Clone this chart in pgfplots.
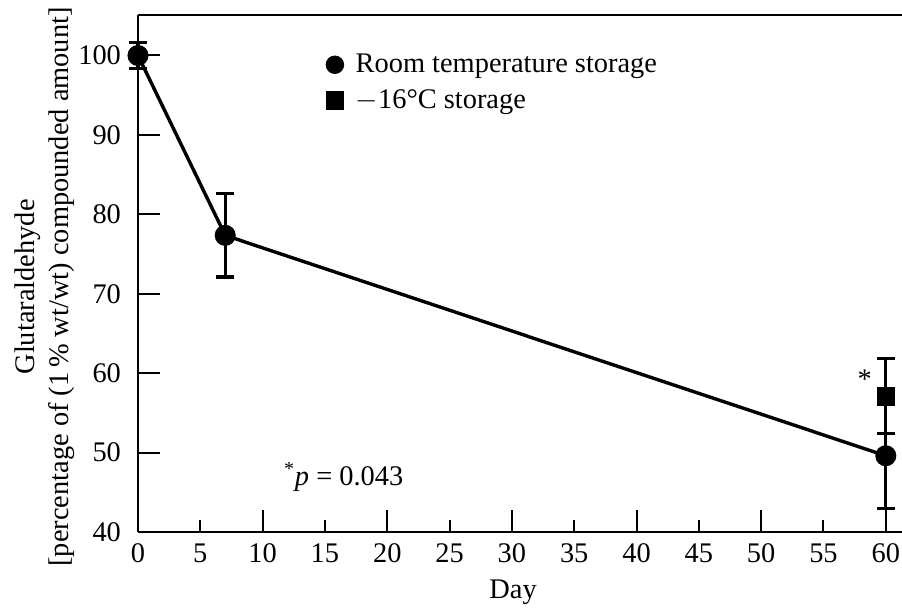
\documentclass[border=0pt]{standalone}
\usepackage{fontspec}
\setmainfont{Liberation Serif}
\usepackage{pgfplots}
\pgfplotsset{compat=1.18}
\usetikzlibrary{calc}
\begin{document}
\begin{tikzpicture}[font=\fontsize{14.2}{17}\selectfont]
\begin{axis}[
  scale only axis,
  width=382pt, height=258.5pt,
  xmin=0, xmax=61.3, ymin=40, ymax=105.1,
  axis y line*=left,
  xtick pos=bottom, ytick pos=left,
  xtick={0,10,...,60},
  extra x ticks={5,15,25,35,45,55}, extra x tick style={major tick length=6pt},
  ytick={40,50,...,100},
  tick align=inside,
  major tick length=11pt,
  xticklabels={0,10,20,30,40,50,60},
  extra x tick labels={5,15,25,35,45,55},
  /pgf/number format/assume math mode=true,
  axis line style={line width=1pt, black},
  every tick/.style={line width=1pt, black},
  tick label style={font=\fontsize{14.2}{17}\selectfont},
  xticklabel style={yshift=-2.5pt},
  yticklabel style={xshift=-5pt},
  clip=false,
  xlabel={Day},
  xlabel style={at={(axis description cs:0.491,-0.116)}, anchor=center},
  ylabel={Glutaraldehyde\\{}[percentage of (1\,\% wt/wt) compounded amount]},
  ylabel style={at={(axis description cs:-0.122,0.474)}, anchor=center, align=center},
  legend style={draw=none, fill=none, at={(axis cs:14.9,101.0)}, anchor=north west,
    font=\fontsize{14.2}{17}\selectfont, row sep=3pt, inner sep=1pt,
    /tikz/every odd column/.append style={column sep=4pt}},
  legend cell align=left,
]
\addlegendimage{only marks, mark=*, mark size=4.4pt, black}
\addlegendentry{Room temperature storage}
\addlegendimage{only marks, mark=square*, mark size=4.3pt, black}
\addlegendentry{$-$16\textdegree C storage}

\addplot[black, line width=1.7pt, mark=*, mark size=4.4pt, mark options={solid},
  error bars/.cd, y dir=both, y explicit,
  error bar style={line width=1.6pt},
  error mark options={rotate=90, mark size=4.5pt, line width=1.6pt}]
  coordinates {
  (0,100) +- (0,1.6)
  (7,77.35) +- (0,5.25)
  (60,49.6) +- (0,6.6)
  };
\addplot[black, only marks, mark=square*, mark size=4.4pt,
  error bars/.cd, y dir=both, y explicit,
  error bar style={line width=1.6pt},
  error mark options={rotate=90, mark size=4.5pt, line width=1.6pt}]
  coordinates {
  (60,57.1) +- (0,4.7)
  };
\node at (axis cs:58.3,59.2) {*};
\node at (axis cs:16.5,46.9) {\textsuperscript{*}\textit{p} = 0.043};
\coordinate (SW) at (rel axis cs:0,0);
\coordinate (NE) at (rel axis cs:1,1);
\end{axis}
\pgfresetboundingbox
\path[use as bounding box] ($(SW)+(-69pt,-38pt)$) rectangle ($(NE)+(0,7.5pt)$);
\end{tikzpicture}
\end{document}
